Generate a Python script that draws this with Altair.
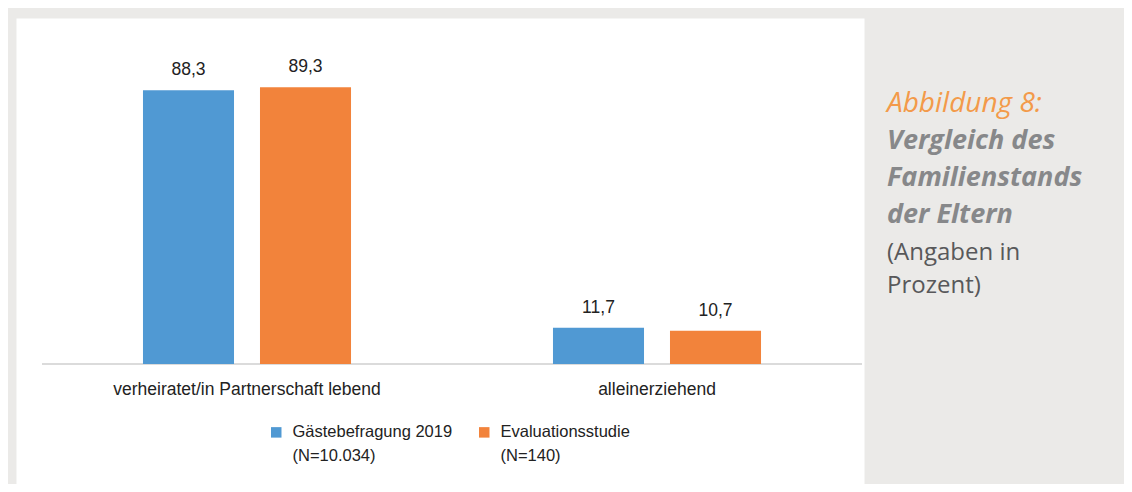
import altair as alt
import pandas as pd

categories = ["verheiratet/in Partnerschaft lebend", "alleinerziehend"]
series = ["Gästebefragung 2019\n(N=10.034)", "Evaluationsstudie\n(N=140)"]
gaeste_2019 = [88.3, 11.7]
evaluationsstudie = [89.3, 10.7]
colors = ["#5099d3", "#f2833b"]

caption_title = "Abbildung 8:"
caption_bold = "Vergleich des|Familienstands|der Eltern"
caption_note = "(Angaben in|Prozent)"

rows = []
for c, a, b in zip(categories, gaeste_2019, evaluationsstudie):
    rows.append({"category": c, "series": series[0], "value": a})
    rows.append({"category": c, "series": series[1], "value": b})
df = pd.DataFrame(rows)
cat_df = pd.DataFrame({"category": categories, "zero": [0, 0]})
cap_df = pd.DataFrame({"t1": [caption_title], "t2": [caption_bold], "t3": [caption_note]})

FONT = "Liberation Sans"
CAP_FONT = "Open Sans"

x_enc = alt.X("category:N", sort=categories, axis=None,
              scale=alt.Scale(range=[26, 846], paddingInner=0, paddingOuter=0))
xo_enc = alt.XOffset("series:N", sort=series,
                     scale=alt.Scale(paddingInner=0.222, paddingOuter=0.863))
y_scale = alt.Scale(domain=[0, 100], range=[346, 36])

base = alt.Chart(df)

bars = base.mark_bar().encode(
    x=x_enc,
    xOffset=xo_enc,
    y=alt.Y("value:Q", scale=y_scale, axis=None),
    color=alt.Color("series:N", sort=series,
                    scale=alt.Scale(domain=series, range=colors),
                    legend=alt.Legend(
                        title=None, orient="none", legendX=252, legendY=406,
                        direction="horizontal", symbolType="square",
                        symbolSize=110, symbolStrokeWidth=0,
                        labelFont=FONT, labelFontSize=16.5, labelColor="#222222",
                        labelLimit=400, columnPadding=23, labelOffset=8,
                        labelExpr="split(datum.label, '\\n')")),
)

labels = base.transform_calculate(
    lbl="replace(format(datum.value, '.1f'), '.', ',')"
).mark_text(font=FONT, fontSize=17.5, color="#222222", dy=-20, baseline="middle").encode(
    x=x_enc,
    xOffset=xo_enc,
    y=alt.Y("value:Q", scale=y_scale, axis=None),
    text="lbl:N",
)

baseline = alt.Chart(cat_df).mark_rule(color="#d9d9d9", strokeWidth=1.5).encode(
    x=alt.value(26), x2=alt.value(846), y=alt.Y("zero:Q", scale=y_scale, axis=None)
)

cat_labels = alt.Chart(cat_df).mark_text(
    font=FONT, fontSize=17.5, color="#222222", baseline="middle"
).encode(x=x_enc, y=alt.value(372), text="category:N")

cap_base = alt.Chart(cap_df).transform_calculate(
    l2="split(datum.t2, '|')", l3="split(datum.t3, '|')"
)

cap1 = cap_base.mark_text(
    font=CAP_FONT, fontSize=28, fontStyle="italic", color="#f39a4a",
    align="left", baseline="middle"
).encode(x=alt.value(871), y=alt.value(86), text="t1:N")

cap2 = cap_base.mark_text(
    font=CAP_FONT, fontSize=27, fontStyle="italic", fontWeight="bold",
    color="#87888a", align="left", baseline="middle", lineHeight=37
).encode(x=alt.value(871), y=alt.value(123), text="l2:N")

cap3 = cap_base.mark_text(
    font=CAP_FONT, fontSize=24, color="#58585a", align="left",
    baseline="middle", lineHeight=33
).encode(x=alt.value(871), y=alt.value(235), text="l3:N")

chart = alt.layer(baseline, bars, labels, cat_labels, cap1, cap2, cap3).properties(
    width=848, height=466,
    autosize=alt.AutoSizeParams(type="none"),
    padding={"left": 8, "top": 10, "right": 260, "bottom": 0},
    background="#ebeae8",
).configure(
    style={"guide-label": {"lineHeight": 24}},
    view=alt.ViewConfig(fill="white", stroke="transparent"),
)

chart.save("out.html", embed_options={"renderer": "svg", "actions": False})
